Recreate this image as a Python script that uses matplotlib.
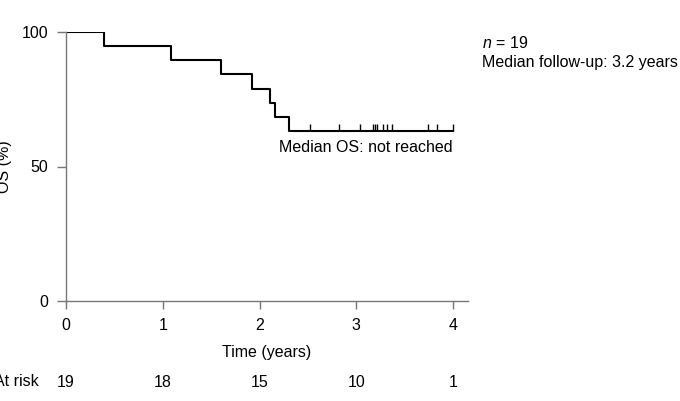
import matplotlib.pyplot as plt

plt.rcParams['font.family'] = ['Liberation Sans', 'DejaVu Sans']
plt.rcParams['mathtext.fontset'] = 'custom'
plt.rcParams['mathtext.rm'] = 'Liberation Sans'
plt.rcParams['mathtext.it'] = 'Liberation Sans:italic'

# Kaplan-Meier data (19 patients)
event_times = [0.39, 1.09, 1.60, 1.92, 2.11, 2.16, 2.30]
censor_times = [2.52, 2.82, 3.04, 3.17, 3.19, 3.21, 3.28, 3.32, 3.37, 3.74, 3.83, 4.00]
n_patients = 19
risk_times = [0, 1, 2, 3, 4]
at_risk = [19, 18, 15, 10, 1]

# Step curve
surv = [100.0]
times = [0.0]
s = 100.0
for t in event_times:
    s -= 100.0 / n_patients
    times.append(t)
    surv.append(s)
times.append(censor_times[-1])
surv.append(s)

fs = 11.5

fig = plt.figure(figsize=(6.8, 4.01), dpi=100)
ax = fig.add_axes([66 / 680, 1 - 301 / 401, (468 - 66) / 680, (301 - 32) / 401])

ax.step(times, surv, where='post', color='black', lw=1.5)
ax.plot(censor_times, [s] * len(censor_times), linestyle='none', marker=2,
        markersize=5, markeredgewidth=1.0, color='black')

ax.set_xlim(0, 4.155)
ax.set_ylim(0, 100)
ax.set_xticks(risk_times)
ax.set_yticks([0, 50, 100])
for side in ['top', 'right']:
    ax.spines[side].set_visible(False)
for side in ['left', 'bottom']:
    ax.spines[side].set_color('#777777')
    ax.spines[side].set_linewidth(1.0)
ax.tick_params(colors='#777777', labelcolor='black', labelsize=fs, length=6.5, width=1.0, pad=6.5)
ax.tick_params(axis='x', length=6, pad=6)

ax.set_xlabel('Time (years)', fontsize=fs)
ax.xaxis.set_label_coords(0.5, (301 - 352) / 269)
ax.xaxis.label.set_va('center')
ax.set_ylabel('OS (%)', fontsize=fs)
ax.yaxis.set_label_coords((5 - 66) / 402, 0.5)
ax.yaxis.label.set_va('center')

ax.text(4.0, s - 3.3, 'Median OS: not reached', ha='right', va='top', fontsize=fs)

fig.text(482 / 680, 1 - 43 / 401, r'$n$ = 19', fontsize=fs, va='center')
fig.text(482 / 680, 1 - 63 / 401, 'Median follow-up: 3.2 years', fontsize=fs, va='center')

# Numbers at risk
for t, n in zip(risk_times, at_risk):
    ax.text(t, -30.4, str(n), ha='center', va='center', fontsize=fs, clip_on=False)
fig.text(39 / 680, 1 - 382 / 401, 'At risk', ha='right', va='center', fontsize=fs)

fig.savefig('out.png', dpi=100)
